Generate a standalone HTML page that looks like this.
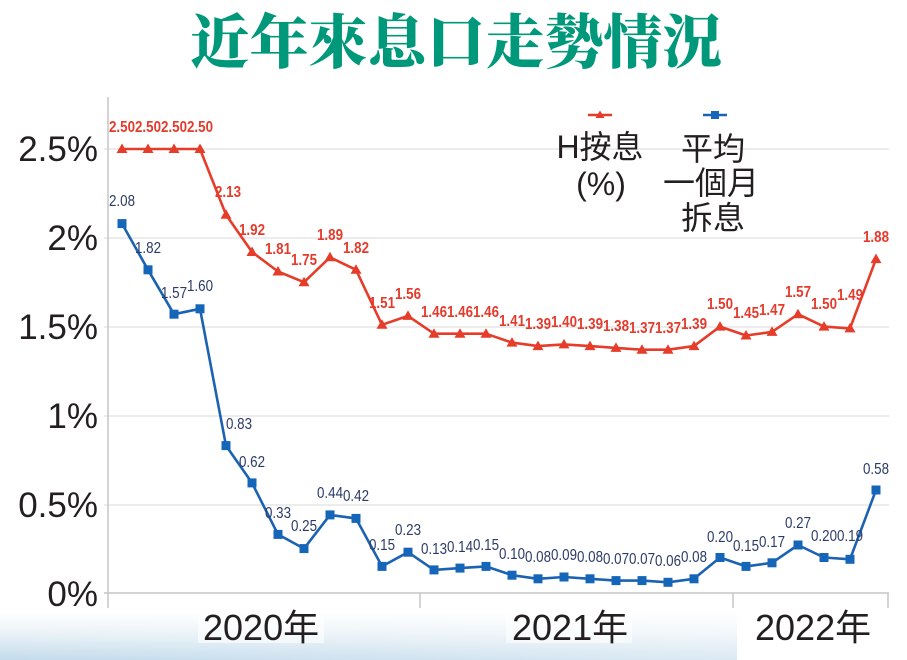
<!DOCTYPE html>
<html>
<head>
<meta charset="utf-8">
<style>
html,body{margin:0;padding:0;background:#fff;}
svg{display:block;}
.yl{font-family:"Liberation Sans","Noto Sans CJK TC",sans-serif;font-size:35px;fill:#231f20;text-anchor:end;}
.xl{font-family:"Liberation Sans","Noto Sans CJK TC",sans-serif;font-size:36px;fill:#231f20;}
.rl{font-family:"Liberation Sans",sans-serif;font-size:16px;font-weight:bold;fill:#e43b2c;text-anchor:middle;}
.bl{font-family:"Liberation Sans",sans-serif;font-size:16px;fill:#2b3a66;text-anchor:middle;}
.lg{font-family:"Liberation Sans","Noto Sans CJK TC",sans-serif;font-size:32px;fill:#231f20;text-anchor:middle;}
</style>
</head>
<body>
<svg width="907" height="660" viewBox="0 0 907 660" xmlns="http://www.w3.org/2000/svg">
<defs>
<linearGradient id="gv" x1="0" y1="0" x2="0" y2="1">
<stop offset="0" stop-color="#ffffff"/>
<stop offset="0.45" stop-color="#eaf2f7"/>
<stop offset="1" stop-color="#c3dbec"/>
</linearGradient>
<linearGradient id="gh" x1="0" y1="0" x2="1" y2="0">
<stop offset="0" stop-color="#ffffff" stop-opacity="0"/>
<stop offset="1" stop-color="#ffffff" stop-opacity="0.4"/>
</linearGradient>
</defs>
<rect width="907" height="660" fill="#fff"/>
<!-- bottom wash -->
<rect x="0" y="612" width="737" height="48" fill="url(#gv)"/>
<rect x="0" y="612" width="737" height="48" fill="url(#gh)"/>
<rect x="198" y="610" width="126" height="33" fill="#fff" opacity="0.6"/>
<rect x="506" y="610" width="126" height="33" fill="#fff" opacity="0.6"/>

<!-- title -->
<text x="456" y="63" text-anchor="middle" font-family="'Noto Serif CJK SC','Noto Serif CJK TC',serif" font-weight="900" font-size="59" fill="#00987a">近年來息口走勢情況</text>

<!-- grid -->
<g stroke="#e6e6e6" stroke-width="1.5">
<line x1="104" y1="149" x2="889" y2="149"/>
<line x1="104" y1="238" x2="889" y2="238"/>
<line x1="104" y1="327" x2="889" y2="327"/>
<line x1="104" y1="416" x2="889" y2="416"/>
<line x1="104" y1="505" x2="889" y2="505"/>
</g>
<g stroke="#c6c6c6" stroke-width="1.5">
<line x1="108" y1="97" x2="108" y2="608"/>
<line x1="104" y1="593" x2="889" y2="593"/>
<line x1="420" y1="593" x2="420" y2="608"/>
<line x1="733" y1="593" x2="733" y2="608"/>
<line x1="888" y1="593" x2="888" y2="608"/>
</g>

<!-- y labels -->
<text class="yl" x="98" y="161">2.5%</text>
<text class="yl" x="98" y="250">2%</text>
<text class="yl" x="98" y="339">1.5%</text>
<text class="yl" x="98" y="428">1%</text>
<text class="yl" x="98" y="517">0.5%</text>
<text class="yl" x="98" y="606">0%</text>

<!-- x labels -->
<text class="xl" x="203" y="640">2020年</text>
<text class="xl" x="512" y="640">2021年</text>
<text class="xl" x="755" y="640">2022年</text>

<!-- red series -->
<polyline fill="none" stroke="#e63c2a" stroke-width="2.6" stroke-linejoin="round" points="122,149 148,149 174,149 200,149 226,214.7 252,252 278,271.5 304,282.2 330,257.3 356,269.8 382,324.8 408,315.9 434,333.7 460,333.7 486,333.7 512,342.6 538,346.1 564,344.4 590,346.1 616,347.9 642,349.7 668,349.7 694,346.1 720,326.6 746,335.5 772,331.9 798,314.2 824,326.6 850,328.4 876,259.1"/>
<g fill="#e63c2a">
<polygon points="122,143.5 116.5,153 127.5,153"/>
<polygon points="148,143.5 142.5,153 153.5,153"/>
<polygon points="174,143.5 168.5,153 179.5,153"/>
<polygon points="200,143.5 194.5,153 205.5,153"/>
<polygon points="226,209.2 220.5,218.7 231.5,218.7"/>
<polygon points="252,246.5 246.5,256 257.5,256"/>
<polygon points="278,266 272.5,275.5 283.5,275.5"/>
<polygon points="304,276.7 298.5,286.2 309.5,286.2"/>
<polygon points="330,251.8 324.5,261.3 335.5,261.3"/>
<polygon points="356,264.3 350.5,273.8 361.5,273.8"/>
<polygon points="382,319.3 376.5,328.8 387.5,328.8"/>
<polygon points="408,310.4 402.5,319.9 413.5,319.9"/>
<polygon points="434,328.2 428.5,337.7 439.5,337.7"/>
<polygon points="460,328.2 454.5,337.7 465.5,337.7"/>
<polygon points="486,328.2 480.5,337.7 491.5,337.7"/>
<polygon points="512,337.1 506.5,346.6 517.5,346.6"/>
<polygon points="538,340.6 532.5,350.1 543.5,350.1"/>
<polygon points="564,338.9 558.5,348.4 569.5,348.4"/>
<polygon points="590,340.6 584.5,350.1 595.5,350.1"/>
<polygon points="616,342.4 610.5,351.9 621.5,351.9"/>
<polygon points="642,344.2 636.5,353.7 647.5,353.7"/>
<polygon points="668,344.2 662.5,353.7 673.5,353.7"/>
<polygon points="694,340.6 688.5,350.1 699.5,350.1"/>
<polygon points="720,321.1 714.5,330.6 725.5,330.6"/>
<polygon points="746,330 740.5,339.5 751.5,339.5"/>
<polygon points="772,326.4 766.5,335.9 777.5,335.9"/>
<polygon points="798,308.7 792.5,318.2 803.5,318.2"/>
<polygon points="824,321.1 818.5,330.6 829.5,330.6"/>
<polygon points="850,322.9 844.5,332.4 855.5,332.4"/>
<polygon points="876,253.6 870.5,263.1 881.5,263.1"/>
</g>

<!-- blue series -->
<polyline fill="none" stroke="#1b63b2" stroke-width="2.6" stroke-linejoin="round" points="122,223.6 148,269.8 174,314.2 200,308.8 226,445.6 252,482.9 278,534.4 304,548.6 330,514.9 356,518.4 382,566.4 408,552.2 434,569.9 460,568.1 486,566.4 512,575.2 538,578.8 564,577 590,578.8 616,580.6 642,580.6 668,582.3 694,578.8 720,557.5 746,566.4 772,562.8 798,545 824,557.5 850,559.3 876,490"/>
<g fill="#1565b8">
<rect x="117.5" y="219.1" width="9" height="9"/>
<rect x="143.5" y="265.3" width="9" height="9"/>
<rect x="169.5" y="309.7" width="9" height="9"/>
<rect x="195.5" y="304.3" width="9" height="9"/>
<rect x="221.5" y="441.1" width="9" height="9"/>
<rect x="247.5" y="478.4" width="9" height="9"/>
<rect x="273.5" y="529.9" width="9" height="9"/>
<rect x="299.5" y="544.1" width="9" height="9"/>
<rect x="325.5" y="510.4" width="9" height="9"/>
<rect x="351.5" y="513.9" width="9" height="9"/>
<rect x="377.5" y="561.9" width="9" height="9"/>
<rect x="403.5" y="547.7" width="9" height="9"/>
<rect x="429.5" y="565.4" width="9" height="9"/>
<rect x="455.5" y="563.6" width="9" height="9"/>
<rect x="481.5" y="561.9" width="9" height="9"/>
<rect x="507.5" y="570.7" width="9" height="9"/>
<rect x="533.5" y="574.3" width="9" height="9"/>
<rect x="559.5" y="572.5" width="9" height="9"/>
<rect x="585.5" y="574.3" width="9" height="9"/>
<rect x="611.5" y="576.1" width="9" height="9"/>
<rect x="637.5" y="576.1" width="9" height="9"/>
<rect x="663.5" y="577.8" width="9" height="9"/>
<rect x="689.5" y="574.3" width="9" height="9"/>
<rect x="715.5" y="553" width="9" height="9"/>
<rect x="741.5" y="561.9" width="9" height="9"/>
<rect x="767.5" y="558.3" width="9" height="9"/>
<rect x="793.5" y="540.5" width="9" height="9"/>
<rect x="819.5" y="553" width="9" height="9"/>
<rect x="845.5" y="554.8" width="9" height="9"/>
<rect x="871.5" y="485.5" width="9" height="9"/>
</g>

<!-- red labels -->
<g>
<text class="rl" x="122" y="132" textLength="26" lengthAdjust="spacingAndGlyphs">2.50</text>
<text class="rl" x="148" y="132" textLength="26" lengthAdjust="spacingAndGlyphs">2.50</text>
<text class="rl" x="174" y="132" textLength="26" lengthAdjust="spacingAndGlyphs">2.50</text>
<text class="rl" x="200" y="132" textLength="26" lengthAdjust="spacingAndGlyphs">2.50</text>
<text class="rl" x="228" y="197" textLength="26" lengthAdjust="spacingAndGlyphs">2.13</text>
<text class="rl" x="252" y="235" textLength="26" lengthAdjust="spacingAndGlyphs">1.92</text>
<text class="rl" x="278" y="254" textLength="26" lengthAdjust="spacingAndGlyphs">1.81</text>
<text class="rl" x="304" y="265" textLength="26" lengthAdjust="spacingAndGlyphs">1.75</text>
<text class="rl" x="330" y="240" textLength="26" lengthAdjust="spacingAndGlyphs">1.89</text>
<text class="rl" x="356" y="253" textLength="26" lengthAdjust="spacingAndGlyphs">1.82</text>
<text class="rl" x="382" y="308" textLength="26" lengthAdjust="spacingAndGlyphs">1.51</text>
<text class="rl" x="408" y="299" textLength="26" lengthAdjust="spacingAndGlyphs">1.56</text>
<text class="rl" x="434" y="317" textLength="26" lengthAdjust="spacingAndGlyphs">1.46</text>
<text class="rl" x="460" y="317" textLength="26" lengthAdjust="spacingAndGlyphs">1.46</text>
<text class="rl" x="486" y="317" textLength="26" lengthAdjust="spacingAndGlyphs">1.46</text>
<text class="rl" x="512" y="326" textLength="26" lengthAdjust="spacingAndGlyphs">1.41</text>
<text class="rl" x="538" y="329" textLength="26" lengthAdjust="spacingAndGlyphs">1.39</text>
<text class="rl" x="564" y="327" textLength="26" lengthAdjust="spacingAndGlyphs">1.40</text>
<text class="rl" x="590" y="329" textLength="26" lengthAdjust="spacingAndGlyphs">1.39</text>
<text class="rl" x="616" y="331" textLength="26" lengthAdjust="spacingAndGlyphs">1.38</text>
<text class="rl" x="642" y="333" textLength="26" lengthAdjust="spacingAndGlyphs">1.37</text>
<text class="rl" x="668" y="333" textLength="26" lengthAdjust="spacingAndGlyphs">1.37</text>
<text class="rl" x="694" y="329" textLength="26" lengthAdjust="spacingAndGlyphs">1.39</text>
<text class="rl" x="720" y="309" textLength="26" lengthAdjust="spacingAndGlyphs">1.50</text>
<text class="rl" x="746" y="318" textLength="26" lengthAdjust="spacingAndGlyphs">1.45</text>
<text class="rl" x="772" y="315" textLength="26" lengthAdjust="spacingAndGlyphs">1.47</text>
<text class="rl" x="798" y="297" textLength="26" lengthAdjust="spacingAndGlyphs">1.57</text>
<text class="rl" x="824" y="309" textLength="26" lengthAdjust="spacingAndGlyphs">1.50</text>
<text class="rl" x="850" y="300" textLength="26" lengthAdjust="spacingAndGlyphs">1.49</text>
<text class="rl" x="876" y="242" textLength="26" lengthAdjust="spacingAndGlyphs">1.88</text>
</g>

<!-- blue labels -->
<g>
<text class="bl" x="122" y="206" textLength="26" lengthAdjust="spacingAndGlyphs">2.08</text>
<text class="bl" x="148" y="253" textLength="26" lengthAdjust="spacingAndGlyphs">1.82</text>
<text class="bl" x="174" y="298" textLength="26" lengthAdjust="spacingAndGlyphs">1.57</text>
<text class="bl" x="200" y="291" textLength="26" lengthAdjust="spacingAndGlyphs">1.60</text>
<text class="bl" x="239" y="429" textLength="26" lengthAdjust="spacingAndGlyphs">0.83</text>
<text class="bl" x="252" y="467" textLength="26" lengthAdjust="spacingAndGlyphs">0.62</text>
<text class="bl" x="278" y="518" textLength="26" lengthAdjust="spacingAndGlyphs">0.33</text>
<text class="bl" x="304" y="531" textLength="26" lengthAdjust="spacingAndGlyphs">0.25</text>
<text class="bl" x="330" y="498" textLength="26" lengthAdjust="spacingAndGlyphs">0.44</text>
<text class="bl" x="356" y="501" textLength="26" lengthAdjust="spacingAndGlyphs">0.42</text>
<text class="bl" x="382" y="550" textLength="26" lengthAdjust="spacingAndGlyphs">0.15</text>
<text class="bl" x="408" y="535" textLength="26" lengthAdjust="spacingAndGlyphs">0.23</text>
<text class="bl" x="434" y="554" textLength="26" lengthAdjust="spacingAndGlyphs">0.13</text>
<text class="bl" x="460" y="552" textLength="26" lengthAdjust="spacingAndGlyphs">0.14</text>
<text class="bl" x="486" y="550" textLength="26" lengthAdjust="spacingAndGlyphs">0.15</text>
<text class="bl" x="512" y="559" textLength="26" lengthAdjust="spacingAndGlyphs">0.10</text>
<text class="bl" x="538" y="562" textLength="26" lengthAdjust="spacingAndGlyphs">0.08</text>
<text class="bl" x="564" y="560" textLength="26" lengthAdjust="spacingAndGlyphs">0.09</text>
<text class="bl" x="590" y="562" textLength="26" lengthAdjust="spacingAndGlyphs">0.08</text>
<text class="bl" x="616" y="564" textLength="26" lengthAdjust="spacingAndGlyphs">0.07</text>
<text class="bl" x="642" y="564" textLength="26" lengthAdjust="spacingAndGlyphs">0.07</text>
<text class="bl" x="668" y="566" textLength="26" lengthAdjust="spacingAndGlyphs">0.06</text>
<text class="bl" x="694" y="562" textLength="26" lengthAdjust="spacingAndGlyphs">0.08</text>
<text class="bl" x="720" y="542" textLength="26" lengthAdjust="spacingAndGlyphs">0.20</text>
<text class="bl" x="746" y="551" textLength="26" lengthAdjust="spacingAndGlyphs">0.15</text>
<text class="bl" x="772" y="547" textLength="26" lengthAdjust="spacingAndGlyphs">0.17</text>
<text class="bl" x="798" y="528" textLength="26" lengthAdjust="spacingAndGlyphs">0.27</text>
<text class="bl" x="824" y="541" textLength="26" lengthAdjust="spacingAndGlyphs">0.20</text>
<text class="bl" x="850" y="541" textLength="26" lengthAdjust="spacingAndGlyphs">0.19</text>
<text class="bl" x="876" y="474" textLength="26" lengthAdjust="spacingAndGlyphs">0.58</text>
</g>

<!-- legend -->
<line x1="588" y1="115" x2="612" y2="115" stroke="#e63c2a" stroke-width="2.6"/>
<polygon points="600,110.5 595.5,118 604.5,118" fill="#e63c2a"/>
<line x1="703" y1="115" x2="727" y2="115" stroke="#1b63b2" stroke-width="2.6"/>
<rect x="711" y="111" width="8" height="8" fill="#1565b8"/>
<text class="lg" x="600" y="158">H按息</text>
<text class="lg" x="601" y="195">(%)</text>
<text class="lg" x="713" y="160">平均</text>
<text class="lg" x="711" y="194">一個月</text>
<text class="lg" x="713" y="229">拆息</text>
</svg>
</body>
</html>
